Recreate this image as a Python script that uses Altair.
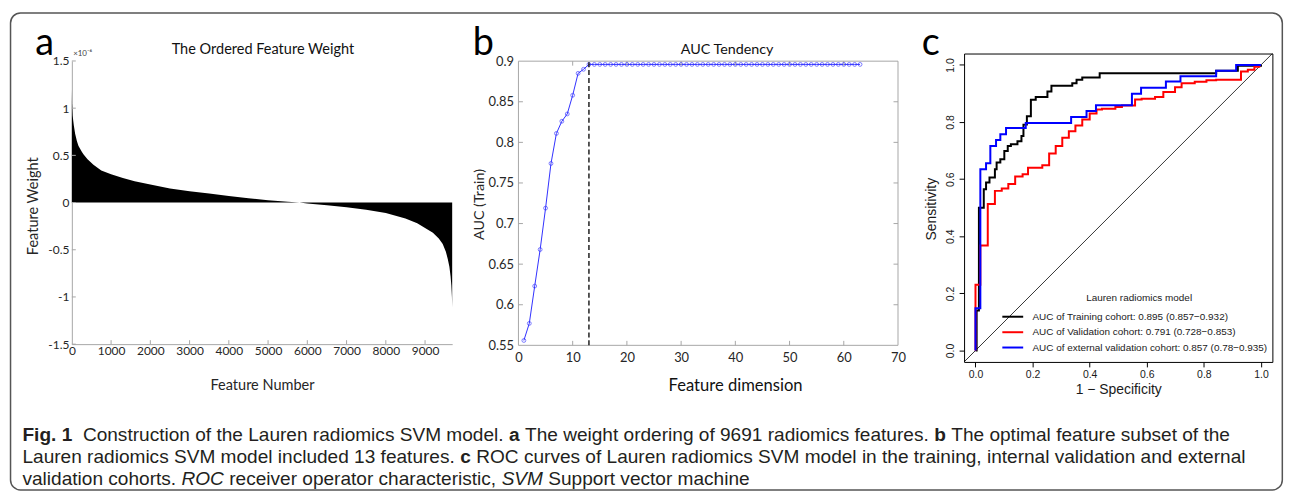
import altair as alt
import pandas as pd

# ---------------- data ----------------
# Panel a: ordered SVM feature weights (units of 1e-6) at selected feature ranks
weight_rank = [0, 5, 20, 50, 84, 130, 170, 250, 300, 400, 550, 750, 1000, 1300, 1600,
               2000, 2500, 3000, 3500, 4000, 4500, 5000, 5500, 5800, 6000, 6500, 7000,
               7500, 8000, 8500, 8800, 9000, 9200, 9350, 9450, 9530, 9580, 9620, 9650,
               9670, 9685, 9691]
weight_value = [1.20, 1.05, 0.92, 0.82, 0.73, 0.65, 0.60, 0.54, 0.51, 0.46, 0.40, 0.34,
                0.30, 0.26, 0.225, 0.19, 0.15, 0.12, 0.095, 0.07, 0.045, 0.025, 0.008,
                0.0, -0.01, -0.028, -0.05, -0.075, -0.11, -0.17, -0.22, -0.27, -0.32,
                -0.38, -0.44, -0.52, -0.60, -0.68, -0.78, -0.88, -1.0, -1.11]
a_xticks = [0, 1000, 2000, 3000, 4000, 5000, 6000, 7000, 8000, 9000]
a_yticks = [-1.5, -1, -0.5, 0, 0.5, 1, 1.5]

# Panel b: AUC tendency
auc_dim = list(range(1, 64))
auc_value = [0.556, 0.577, 0.623, 0.668, 0.719, 0.774, 0.811, 0.826, 0.835, 0.858, 0.885,
             0.890, 0.896, 0.896, 0.896, 0.896, 0.896, 0.896, 0.896, 0.896, 0.896, 0.896,
             0.896, 0.896, 0.896, 0.896, 0.896, 0.896, 0.896, 0.896, 0.896, 0.896, 0.896,
             0.896, 0.896, 0.896, 0.896, 0.896, 0.896, 0.896, 0.896, 0.896, 0.896, 0.896,
             0.896, 0.896, 0.896, 0.896, 0.896, 0.896, 0.896, 0.896, 0.896, 0.896, 0.896,
             0.896, 0.896, 0.896, 0.896, 0.896, 0.896, 0.896, 0.896]
best_dim = 13
b_xticks = [0, 10, 20, 30, 40, 50, 60, 70]
b_yticks = [0.55, 0.6, 0.65, 0.7, 0.75, 0.8, 0.85, 0.9]

# Panel c: ROC curves (corner points of the step curves)
train_fpr = [0, 0.004, 0.012, 0.029, 0.037, 0.049, 0.068, 0.074, 0.087, 0.101, 0.113, 0.124,
             0.147, 0.161, 0.168, 0.180, 0.194, 0.211, 0.252, 0.266, 0.339, 0.354, 0.374,
             0.435, 0.843, 0.919, 1.0]
train_tpr = [0, 0.14, 0.50, 0.565, 0.588, 0.606, 0.635, 0.658, 0.670, 0.699, 0.716, 0.722,
             0.733, 0.751, 0.791, 0.820, 0.878, 0.888, 0.907, 0.927, 0.936, 0.948, 0.956,
             0.971, 0.980, 0.997, 1.0]
val_fpr = [0, 0, 0.017, 0.043, 0.068, 0.092, 0.115, 0.139, 0.165, 0.184, 0.234, 0.258, 0.281,
           0.304, 0.327, 0.350, 0.374, 0.400, 0.424, 0.443, 0.490, 0.513, 0.559, 0.582, 0.629,
           0.658, 0.699, 0.722, 0.768, 0.809, 0.843, 0.930, 0.954, 0.977, 0.994]
val_tpr = [0, 0.23, 0.368, 0.513, 0.559, 0.567, 0.583, 0.609, 0.617, 0.640, 0.649, 0.690,
           0.716, 0.745, 0.768, 0.788, 0.809, 0.830, 0.844, 0.847, 0.853, 0.858, 0.879, 0.882,
           0.888, 0.905, 0.922, 0.936, 0.941, 0.946, 0.948, 0.977, 0.983, 0.994, 1.0]
ext_fpr = [0, 0.0, 0.017, 0.037, 0.052, 0.072, 0.087, 0.107, 0.176, 0.335, 0.389, 0.422,
           0.548, 0.580, 0.667, 0.718, 0.843, 0.913, 1.0]
ext_tpr = [0, 0.148, 0.635, 0.656, 0.716, 0.737, 0.757, 0.779, 0.797, 0.818, 0.839, 0.859,
           0.899, 0.920, 0.942, 0.960, 0.980, 1.0, 1.0]
c_ticks = [0.0, 0.2, 0.4, 0.6, 0.8, 1.0]
diag = [-0.04, 1.04]
cohort_labels = ["AUC of Training cohort: 0.895 (0.857\u22120.932)",
                 "AUC of Validation cohort: 0.791 (0.728\u22120.853)",
                 "AUC of external validation cohort: 0.857 (0.78\u22120.935)"]
cohort_colors = ["#000000", "#ff0000", "#0000ff"]
legend_title = "Lauren radiomics model"

caption_lines = [
    [("Fig. 1", "bold"), ("Construction of the Lauren radiomics SVM model.", "normal"),
     ("a", "bold"), ("The weight ordering of 9691 radiomics features.", "normal"),
     ("b", "bold"), ("The optimal feature subset of the", "normal")],
    [("Lauren radiomics SVM model included 13 features.", "normal"), ("c", "bold"),
     ("ROC curves of Lauren radiomics SVM model in the training, internal validation and external", "normal")],
    [("validation cohorts.", "normal"), ("ROC", "italic"),
     ("receiver operator characteristic,", "normal"), ("SVM", "italic"),
     ("Support vector machine", "normal")],
]

# ---------------- layout constants (pixels) ----------------
FM = "Lato"
FR = "Liberation Sans"
A_LEFT, ROW_TOP = 71.7, 51.8
A_W, A_H, A_TOP = 382.8, 292.5, 7.5
B_W, B_H, B_TOP = 382.0, 293.7, 7.7
C_W, C_H = 310.3, 310.4
GAP = 66.5
AX_GRAY = "#a6a6a6"
TXT_DARK = "#262626"
BLUE = "#3030ff"

ARIAL = {' ': 278, ',': 278, '.': 278, '0': 556, '1': 556, '2': 556, '3': 556, '4': 556,
         '5': 556, '6': 556, '7': 556, '8': 556, '9': 556, 'A': 667, 'C': 722, 'F': 611,
         'L': 556, 'M': 833, 'O': 778, 'R': 722, 'S': 667, 'T': 611, 'V': 667, 'a': 556,
         'b': 556, 'c': 500, 'd': 556, 'e': 556, 'f': 278, 'g': 556, 'h': 556, 'i': 222,
         'l': 222, 'm': 833, 'n': 556, 'o': 556, 'p': 556, 'r': 333, 's': 500, 't': 278,
         'u': 556, 'v': 500, 'w': 722, 'x': 500, 'y': 500}
ARIAL_BOLD = {'F': 611, 'i': 278, 'g': 611, '.': 278, ' ': 278, '1': 556, 'a': 556,
              'b': 611, 'c': 556}


def seg_width(s, fs, style):
    tbl = ARIAL_BOLD if style == "bold" else ARIAL
    return sum(tbl.get(ch, ARIAL.get(ch, 556)) for ch in s) * fs / 1000.0


def txt(text, x, y, size, font, color="#000000", align="left", baseline="alphabetic",
        weight="normal", style="normal", angle=None):
    kw = dict(align=align, baseline=baseline, font=font, fontSize=size, color=color,
              fontWeight=weight, fontStyle=style)
    if angle is not None:
        kw["angle"] = angle
    return alt.Chart(pd.DataFrame({"t": [text]})).mark_text(**kw).encode(
        text="t:N", x=alt.value(x), y=alt.value(y))


# ---------------- panel a ----------------
xa = alt.Scale(domain=[0, 9691], nice=False, zero=False)
ya = alt.Scale(domain=[-1.5, 1.5], range=[A_H, A_TOP], nice=False, zero=False)
df_a = pd.DataFrame({"rank": weight_rank, "w": weight_value, "zero": 0.0})

area_a = alt.Chart(df_a).mark_area(color="black", interpolate="linear").encode(
    x=alt.X("rank:Q", scale=xa, axis=alt.Axis(
        values=a_xticks, format="d", ticks=False, grid=False, domainColor=AX_GRAY,
        labelFont=FM, labelFontSize=12, labelColor=TXT_DARK, labelPadding=1,
        labelFlush=False, labelOverlap=False, title="Feature Number", titleFont=FM,
        titleFontSize=14.6, titleFontWeight="normal", titleColor=TXT_DARK,
        titleX=A_W / 2, titleY=41.7, titleAlign="center", titleBaseline="middle")),
    y=alt.Y("w:Q", scale=ya, axis=alt.Axis(
        values=a_yticks, ticks=False, grid=False, domainColor=AX_GRAY, labelFont=FM,
        labelFontSize=12, labelColor=TXT_DARK, labelPadding=3, labelFlush=False,
        labelOverlap=False, labelExpr="'' + datum.value", title="Feature Weight",
        titleFont=FM, titleFontSize=14.6, titleFontWeight="normal", titleColor=TXT_DARK,
        titleX=-38.7, titleY=153.2, titleAngle=270, titleAlign="center",
        titleBaseline="middle")),
    y2="zero:Q",
)
tick_ax = alt.Chart(pd.DataFrame({"t": a_xticks[1:]})).mark_rule(
    color=AX_GRAY, strokeWidth=1).encode(
    x=alt.X("t:Q", scale=xa), y=alt.value(A_H), y2=alt.value(A_H - 4))
tick_ay = alt.Chart(pd.DataFrame({"t": a_yticks})).mark_rule(
    color=AX_GRAY, strokeWidth=1).encode(
    y=alt.Y("t:Q", scale=ya), x=alt.value(0), x2=alt.value(4))

layers_a = [area_a, tick_ax, tick_ay,
            txt("a", 35 - A_LEFT, 53 - ROW_TOP, 38, FM),
            txt("The Ordered Feature Weight", 264 - A_LEFT, 48 - ROW_TOP, 14.6, FM,
                color="#111111", align="center", baseline="middle"),
            txt("\u00d710\u207b\u2076", 73 - A_LEFT, 52.5 - ROW_TOP, 8, FM, color="#444444",
                baseline="middle")]

# figure frame and caption (drawn in panel a's coordinate space)
border = alt.Chart(pd.DataFrame({"k": [0]})).mark_rect(
    fillOpacity=0, stroke="#555555", strokeWidth=1.5, cornerRadius=10).encode(
    x=alt.value(10 - A_LEFT), x2=alt.value(1290 - A_LEFT),
    y=alt.value(11 - ROW_TOP), y2=alt.value(491 - ROW_TOP))
layers_a.append(border)

CAP_FS = 19.2
CAP_X0 = 22
CAP_BASE = [442, 464, 486]
for li, line in enumerate(caption_lines):
    x = CAP_X0
    for si, (s, style) in enumerate(line):
        layers_a.append(txt(s, x - A_LEFT, CAP_BASE[li] - ROW_TOP, CAP_FS, FR,
                            color="#231f20",
                            weight="bold" if style == "bold" else "normal",
                            style="italic" if style == "italic" else "normal"))
        gap = 2 if (li == 0 and si == 0) else 1
        x += seg_width(s, CAP_FS, style) + gap * 0.278 * CAP_FS

panel_a = alt.layer(*layers_a).properties(width=A_W, height=A_H)

# ---------------- panel b ----------------
xb = alt.Scale(domain=[0, 70], nice=False, zero=False)
yb = alt.Scale(domain=[0.55, 0.9], range=[B_H, B_TOP], nice=False, zero=False)
df_b = pd.DataFrame({"dim": auc_dim, "auc": auc_value})

line_b = alt.Chart(df_b).mark_line(color=BLUE, strokeWidth=1).encode(
    x=alt.X("dim:Q", scale=xb, axis=alt.Axis(
        values=b_xticks, ticks=False, grid=False, domain=False, labelFont=FM,
        labelFontSize=13, labelColor=TXT_DARK, labelPadding=6, labelFlush=False,
        labelOverlap=False, title="Feature dimension", titleFont=FM, titleFontSize=16.7,
        titleFontWeight="normal", titleColor="#111111", titleX=218, titleY=40.5,
        titleAlign="center", titleBaseline="middle")),
    y=alt.Y("auc:Q", scale=yb, axis=alt.Axis(
        values=b_yticks, ticks=False, grid=False, domain=False, labelFont=FM,
        labelFontSize=13, labelColor=TXT_DARK, labelPadding=5, labelFlush=False,
        labelOverlap=False, labelExpr="'' + datum.value", title="AUC (Train)",
        titleFont=FM, titleFontSize=14.4, titleFontWeight="normal", titleColor=TXT_DARK,
        titleX=-39, titleY=151.5, titleAngle=270, titleAlign="center",
        titleBaseline="middle")),
)
box_b = alt.Chart(pd.DataFrame({"x0": [b_xticks[0]], "x1": [b_xticks[-1]],
                                "y0": [b_yticks[0]], "y1": [b_yticks[-1]]})).mark_rect(
    fillOpacity=0, stroke=AX_GRAY, strokeWidth=1).encode(
    x=alt.X("x0:Q", scale=xb), x2="x1:Q",
    y=alt.Y("y0:Q", scale=yb), y2="y1:Q")
pts_b = alt.Chart(df_b).mark_point(shape="circle", filled=False, size=15, color=BLUE,
                                   strokeWidth=0.9).encode(
    x=alt.X("dim:Q", scale=xb), y=alt.Y("auc:Q", scale=yb))
dash_b = alt.Chart(pd.DataFrame({"d": [best_dim], "lo": [b_yticks[0]], "hi": [b_yticks[-1]]})).mark_rule(
    color="#111111", strokeDash=[5, 3], strokeWidth=1.4).encode(
    x=alt.X("d:Q", scale=xb), y=alt.Y("lo:Q", scale=yb), y2="hi:Q")
inner = b_xticks[1:-1]
inner_y = b_yticks[1:-1]
tb_bot = alt.Chart(pd.DataFrame({"t": inner})).mark_rule(color=AX_GRAY).encode(
    x=alt.X("t:Q", scale=xb), y=alt.value(B_H), y2=alt.value(B_H - 4.5))
tb_top = alt.Chart(pd.DataFrame({"t": inner})).mark_rule(color=AX_GRAY).encode(
    x=alt.X("t:Q", scale=xb), y=alt.value(B_TOP), y2=alt.value(B_TOP + 4.5))
tb_left = alt.Chart(pd.DataFrame({"t": inner_y})).mark_rule(color=AX_GRAY).encode(
    y=alt.Y("t:Q", scale=yb), x=alt.value(0), x2=alt.value(4.5))
tb_right = alt.Chart(pd.DataFrame({"t": inner_y})).mark_rule(color=AX_GRAY).encode(
    y=alt.Y("t:Q", scale=yb), x=alt.value(B_W), x2=alt.value(B_W - 4.5))

B_LEFT = A_LEFT + A_W + GAP
panel_b = alt.layer(
    line_b, box_b, tb_bot, tb_top, tb_left, tb_right, pts_b, dash_b,
    txt("b", 475 - B_LEFT, 53 - ROW_TOP, 38, FM),
    txt("AUC Tendency", 731 - B_LEFT, 48 - ROW_TOP, 14.4, FM, color="#111111",
        align="center", baseline="middle"),
).properties(width=B_W, height=B_H)

# ---------------- panel c ----------------
xc = alt.Scale(domain=[-0.04, 1.04], nice=False, zero=False)
yc = alt.Scale(domain=[-0.04, 1.04], nice=False, zero=False)
C_LEFT = B_LEFT + B_W + GAP

diag_c = alt.Chart(pd.DataFrame({"x": diag, "y": diag})).mark_line(
    color="black", strokeWidth=0.8).encode(
    x=alt.X("x:Q", scale=xc, axis=alt.Axis(
        values=c_ticks, format=".1f", tickSize=5, tickColor="black", grid=False,
        domain=False, labelFont=FR, labelFontSize=10.5, labelColor="#1a1a1a",
        labelPadding=3, labelFlush=False, labelOverlap=False,
        title="1 \u2212 Specificity", titleFont=FR, titleFontSize=14,
        titleFontWeight="normal", titleColor="#1a1a1a", titleX=C_W / 2, titleY=28,
        titleAlign="center", titleBaseline="middle")),
    y=alt.Y("y:Q", scale=yc, axis=alt.Axis(
        values=c_ticks, format=".1f", tickSize=5, tickColor="black", grid=False,
        domain=False, labelFont=FR, labelFontSize=10.5, labelColor="#1a1a1a",
        labelPadding=3.5, labelAngle=270, labelFlush=False, labelOverlap=False,
        title="Sensitivity", titleFont=FR, titleFontSize=14, titleFontWeight="normal",
        titleColor="#1a1a1a", titleX=-32.5, titleY=156.2, titleAngle=270,
        titleAlign="center", titleBaseline="middle")),
)

roc_layers = []
for lab, col, fx, fy in zip(cohort_labels, cohort_colors,
                            [train_fpr, val_fpr, ext_fpr], [train_tpr, val_tpr, ext_tpr]):
    d = pd.DataFrame({"fpr": fx, "tpr": fy, "ord": list(range(len(fx)))})
    roc_layers.append(alt.Chart(d).mark_line(
        interpolate="step-after", strokeWidth=2, color=col).encode(
        x=alt.X("fpr:Q", scale=xc), y=alt.Y("tpr:Q", scale=yc), order="ord:Q"))

leg_layers = [txt(legend_title, 1145.7 - C_LEFT, 298 - ROW_TOP, 10, FR, color="#1a1a1a",
                  align="center", baseline="middle")]
row_y = [316.7, 332.3, 347.7]
for lab, col, ry in zip(cohort_labels, cohort_colors, row_y):
    leg_layers.append(alt.Chart(pd.DataFrame({"k": [lab]})).mark_rule(
        color=col, strokeWidth=2).encode(
        x=alt.value(1008 - C_LEFT), x2=alt.value(1029 - C_LEFT), y=alt.value(ry - ROW_TOP)))
    leg_layers.append(txt(lab, 1038.3 - C_LEFT, ry - ROW_TOP, 10, FR, color="#1a1a1a",
                          baseline="middle"))

panel_c = alt.layer(
    diag_c, *roc_layers, *leg_layers,
    txt("c", 927 - C_LEFT, 53 - ROW_TOP, 38, FM),
).properties(width=C_W, height=C_H,
             view=alt.ViewBackground(stroke="black", strokeWidth=1))

chart = alt.hconcat(panel_a, panel_b, panel_c, spacing=GAP, bounds="flush").properties(
    padding={"left": 1.25, "top": 2.25, "right": 1, "bottom": 0}
).configure_view(stroke=None)

chart.save("out.html", embed_options={"renderer": "svg", "actions": False})
